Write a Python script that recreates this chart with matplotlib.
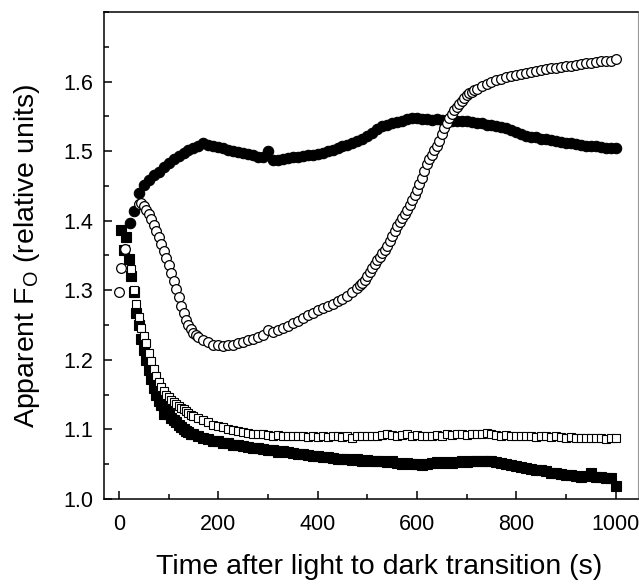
import numpy as np
import matplotlib
matplotlib.use('Agg')
from matplotlib import pyplot as plt
from matplotlib.ticker import MultipleLocator

plt.rcParams['font.family'] = ['Liberation Sans', 'DejaVu Sans']
plt.rcParams['mathtext.default'] = 'regular'

# filled circles
fc_time = np.concatenate([[22, 31], np.arange(40, 1001, 10)])
fc_vals = [1.396, 1.414, 1.440, 1.452, 1.458, 1.465, 1.470, 1.477, 1.483, 1.488,
           1.493, 1.497, 1.501, 1.505, 1.508, 1.511, 1.509, 1.507, 1.506, 1.504,
           1.502, 1.500, 1.499, 1.498, 1.496, 1.494, 1.492, 1.491, 1.500, 1.487,
           1.487, 1.489, 1.490, 1.491, 1.492, 1.493, 1.494, 1.495, 1.496, 1.498,
           1.500, 1.502, 1.505, 1.507, 1.509, 1.512, 1.515, 1.518, 1.522, 1.526,
           1.532, 1.536, 1.538, 1.540, 1.542, 1.544, 1.546, 1.547, 1.547, 1.546,
           1.546, 1.545, 1.546, 1.545, 1.545, 1.544, 1.544, 1.543, 1.543, 1.542,
           1.541, 1.540, 1.538, 1.537, 1.536, 1.535, 1.533, 1.530, 1.527, 1.524,
           1.522, 1.521, 1.520, 1.518, 1.517, 1.516, 1.515, 1.513, 1.512, 1.511,
           1.510, 1.509, 1.508, 1.508, 1.507, 1.506, 1.505, 1.504, 1.504]

# open circles
oc_time = np.concatenate([[0, 4, 13], np.arange(40, 161, 5), np.arange(170, 471, 10),
                          np.arange(480, 721, 5), np.arange(730, 1001, 10)])
oc_vals = [1.297, 1.332, 1.360,
           1.424, 1.425,
           1.421, 1.415, 1.409, 1.402, 1.394, 1.385, 1.376, 1.366, 1.356, 1.346,
           1.336, 1.325, 1.314, 1.302, 1.290, 1.278, 1.268, 1.258, 1.250, 1.244,
           1.239, 1.236, 1.233,
           1.229, 1.225, 1.222, 1.221, 1.220, 1.221, 1.222, 1.224, 1.225, 1.228,
           1.230, 1.233, 1.236, 1.243, 1.240, 1.243, 1.246, 1.249, 1.253, 1.256,
           1.260, 1.264, 1.268, 1.272, 1.275, 1.278, 1.281, 1.284, 1.288, 1.292,
           1.298,
           1.303, 1.307, 1.311, 1.315, 1.320, 1.326, 1.332, 1.338, 1.343, 1.348,
           1.353, 1.358, 1.364, 1.371, 1.378, 1.385, 1.392, 1.398, 1.404, 1.410,
           1.416, 1.423, 1.430, 1.437, 1.444, 1.453, 1.462, 1.472, 1.482, 1.489,
           1.495, 1.501, 1.507, 1.515, 1.524, 1.533, 1.541, 1.548, 1.553, 1.559,
           1.564, 1.568, 1.572, 1.576, 1.580, 1.583, 1.585, 1.588, 1.590,
           1.594, 1.597, 1.600, 1.602, 1.604, 1.606, 1.608, 1.609, 1.611, 1.612,
           1.614, 1.615, 1.617, 1.618, 1.619, 1.620, 1.621, 1.622, 1.623, 1.624,
           1.625, 1.626, 1.627, 1.628, 1.629, 1.629, 1.630, 1.632]

# open squares
os_time = np.concatenate([np.arange(25, 151, 5), np.arange(160, 1001, 10)])
os_vals = [1.330, 1.300, 1.280, 1.262, 1.246, 1.234, 1.224, 1.210, 1.198, 1.187,
           1.177, 1.168, 1.161, 1.155, 1.150, 1.146, 1.143, 1.140, 1.137, 1.134,
           1.131, 1.129, 1.127, 1.124, 1.121, 1.119,
           1.116, 1.113, 1.110, 1.107, 1.105, 1.103, 1.101, 1.099, 1.098, 1.097,
           1.095, 1.094, 1.093, 1.093, 1.092, 1.091, 1.092, 1.090, 1.091, 1.090,
           1.091, 1.090, 1.089, 1.090, 1.089, 1.090, 1.089, 1.090, 1.091, 1.089,
           1.090, 1.088, 1.090, 1.090, 1.090, 1.091, 1.091, 1.092, 1.093, 1.092,
           1.091, 1.092, 1.093, 1.091, 1.092, 1.091, 1.090, 1.091, 1.092, 1.091,
           1.093, 1.092, 1.094, 1.093, 1.092, 1.094, 1.093, 1.094, 1.095, 1.093,
           1.092, 1.091, 1.092, 1.091, 1.090, 1.090, 1.091, 1.090, 1.089, 1.091,
           1.090, 1.089, 1.090, 1.089, 1.088, 1.089, 1.088, 1.087, 1.088, 1.087,
           1.088, 1.087, 1.086, 1.087, 1.087]

# filled squares
fs_time = np.concatenate([np.arange(5, 151, 5), np.arange(160, 1001, 10)])
fs_vals = [1.386, 1.358, 1.377, 1.345, 1.320, 1.298, 1.268, 1.250, 1.230, 1.214,
           1.200, 1.185, 1.172, 1.160, 1.150, 1.141, 1.135, 1.122, 1.128, 1.122,
           1.117, 1.113, 1.110, 1.106, 1.103, 1.100, 1.098, 1.096, 1.094, 1.093,
           1.090, 1.088, 1.086, 1.084, 1.083, 1.081, 1.080, 1.078, 1.077, 1.076,
           1.075, 1.074, 1.073, 1.072, 1.071, 1.070, 1.068, 1.069, 1.068, 1.066,
           1.065, 1.064, 1.063, 1.062, 1.062, 1.061, 1.060, 1.059, 1.058, 1.058,
           1.057, 1.056, 1.057, 1.055, 1.056, 1.054, 1.055, 1.054, 1.053, 1.054,
           1.052, 1.051, 1.052, 1.050, 1.051, 1.049, 1.050, 1.052, 1.053, 1.052,
           1.053, 1.052, 1.053, 1.054, 1.053, 1.054, 1.055, 1.054, 1.055, 1.055,
           1.053, 1.052, 1.051, 1.049, 1.047, 1.046, 1.044, 1.043, 1.042, 1.041,
           1.040, 1.038, 1.037, 1.036, 1.035, 1.034, 1.033, 1.032, 1.033, 1.038,
           1.032, 1.031, 1.030, 1.030, 1.018]

fig = plt.figure(figsize=(6.39, 5.85), dpi=100)
ax = fig.add_axes([0.1628, 0.147, 0.8357, 0.8325])

ax.plot(fs_time, fs_vals, 's', ms=6.5, mfc='black', mec='black', mew=0.8, zorder=2)
ax.plot(os_time, os_vals, 's', ms=6, mfc='white', mec='black', mew=0.8, zorder=3)
ax.plot(fc_time, fc_vals, 'o', ms=7.5, mfc='black', mec='black', mew=0.8, zorder=4)
ax.plot(oc_time, oc_vals, 'o', ms=7, mfc='white', mec='black', mew=0.9, zorder=5)

ax.set_xlim(-30, 1045)
ax.set_ylim(1.0, 1.7)
ax.xaxis.set_major_locator(MultipleLocator(200))
ax.xaxis.set_minor_locator(MultipleLocator(100))
ax.yaxis.set_minor_locator(MultipleLocator(0.05))
ax.set_yticks([1.0, 1.1, 1.2, 1.3, 1.4, 1.5, 1.6])
ax.set_yticklabels(['1.0', '1.1', '1.2', '1.3', '1.4', '1.5', '1.6'])

ax.tick_params(which='both', direction='in', top=False, right=False, width=1.1)
ax.tick_params(which='major', length=6, labelsize=15.5)
ax.tick_params(which='minor', length=3.5)
ax.tick_params(axis='x', which='major', pad=11)
ax.tick_params(axis='y', which='major', pad=8)

for side in ['left', 'bottom', 'top']:
    ax.spines[side].set_linewidth(1.1)
ax.spines['right'].set_linewidth(0.8)
ax.spines['right'].set_color('0.6')

ax.set_xlabel('Time after light to dark transition (s)', fontsize=20.5, va='top')
ax.set_ylabel('Apparent F$_{O}$ (relative units)', fontsize=20.5)
ax.xaxis.set_label_coords(0.515, -0.112)
ax.yaxis.set_label_coords(-0.116, 0.5)

fig.savefig('out.png', dpi=100)
